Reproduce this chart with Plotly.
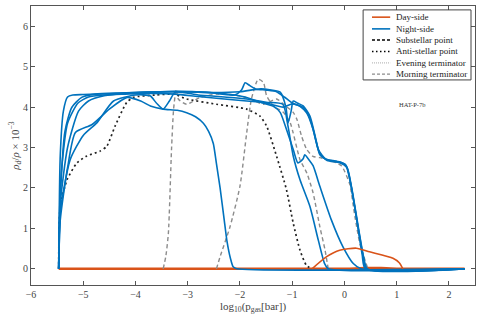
import plotly.graph_objects as go

BLUE = "#0072BD"
ORANGE = "#D95319"

# Night-side profiles (x = log10 p_gas, y = rho_d/rho x 1e-3)
night_a_x = [-5.47, -5.44, -5.38, -5.3, -5.2, -5.0, -4.5, -4.0, -3.5, -3.0, -2.5, -2.0, -1.6, -1.4, -1.23, -1.12, -1.08, -1.02, -0.98, -0.9, -0.79, -0.66, -0.56, -0.47, -0.34, -0.09, 0.04, 0.13, 0.26, 0.36, 0.42, 2.3]
night_a_y = [0, 2.8, 3.9, 4.25, 4.3, 4.31, 4.33, 4.36, 4.38, 4.38, 4.36, 4.38, 4.45, 4.42, 4.37, 4.0, 3.6, 3.9, 4.15, 4.1, 4.03, 3.78, 3.28, 2.82, 2.7, 2.64, 2.54, 2.04, 1.04, 0.3, 0, 0]

night_b_x = [-5.47, -5.43, -5.35, -5.22, -5.03, -4.77, -4.3, -3.8, -3.2, -2.6, -2.1, -1.97, -1.9, -1.81, -1.7, -1.5, -1.3, -1.15, -1.0, -0.85, -0.72, -0.6, -0.5, -0.36, -0.15, 0.02, 0.12, 0.25, 0.34, 0.4, 2.3]
night_b_y = [0, 2.0, 3.4, 3.99, 4.24, 4.32, 4.35, 4.37, 4.39, 4.36, 4.3, 4.42, 4.6, 4.53, 4.45, 4.42, 4.38, 4.25, 4.1, 4.02, 3.85, 3.45, 2.95, 2.72, 2.66, 2.58, 2.1, 1.1, 0.35, 0, 0]

night_c_x = [-5.47, -5.44, -5.3, -5.09, -4.9, -4.6, -4.2, -3.8, -3.3, -2.8, -2.3, -1.9, -1.61, -1.36, -1.23, -1.11, -0.98, -0.89, -0.79, -0.76, -0.68, -0.6, -0.47, -0.25, -0.03, 0.17, 0.32, 2.3]
night_c_y = [0, 1.6, 3.0, 3.9, 4.15, 4.28, 4.34, 4.36, 4.38, 4.37, 4.33, 4.25, 4.12, 4.02, 3.87, 3.45, 2.95, 2.62, 2.72, 2.82, 2.7, 2.55, 2.04, 1.21, 0.55, 0.13, 0, 0]

night_d_x = [-5.47, -5.44, -5.25, -5.0, -4.74, -4.42, -4.0, -3.72, -3.6, -3.47, -3.35, -3.24, -2.8, -2.3, -1.87, -1.5, -1.18, -1.08, -0.98, -0.85, -0.66, -0.5, -0.38, -0.31, 2.3]
night_d_y = [0, 1.4, 2.7, 3.3, 3.61, 4.15, 4.3, 4.28, 4.1, 3.95, 4.15, 4.37, 4.3, 4.25, 4.2, 4.12, 4.07, 3.53, 2.79, 2.2, 1.54, 0.71, 0.13, 0, 0]

night_e_x = [-5.47, -5.44, -5.3, -5.15, -4.83, -4.5, -4.16, -3.9, -3.7, -3.47, -3.2, -3.02, -2.85, -2.7, -2.6, -2.51, -2.45, -2.38, -2.3, -2.25, -2.18, -2.13, -2.06, 2.3]
night_e_y = [0, 1.2, 2.5, 3.37, 3.57, 3.95, 4.24, 4.15, 4.02, 3.95, 3.92, 3.86, 3.76, 3.6, 3.4, 3.1, 2.6, 2.0, 1.2, 0.7, 0.25, 0.05, 0, 0]

night_f_x = [-5.47, -5.43, -5.3, -5.1, -4.9, -4.6, -4.2, -3.7, -3.24, -2.8, -2.3, -1.87, -1.5, -1.17, -1.0, -0.9, -0.78, -0.66, -0.56, -0.47, -0.33, -0.1, 0.05, 0.14, 0.27, 0.37, 0.44, 2.3]
night_f_y = [0, 2.2, 3.6, 4.1, 4.25, 4.3, 4.32, 4.34, 4.32, 4.26, 4.2, 4.15, 4.1, 4.0, 4.08, 4.05, 3.98, 3.72, 3.25, 2.85, 2.68, 2.63, 2.5, 2.0, 1.0, 0.28, 0, 0]

# Anti-stellar point
anti_x = [-5.47, -5.44, -5.31, -5.12, -4.93, -4.68, -4.55, -4.39, -4.17, -4.04, -3.6, -3.27, -3.02, -2.45, -1.87, -1.62, -1.49, -1.3, -1.11, -0.98, -0.85, -0.73, -0.63]
anti_y = [0, 1.54, 2.2, 2.62, 2.79, 2.91, 3.03, 3.53, 4.11, 4.24, 4.3, 4.32, 4.2, 4.07, 3.95, 3.78, 3.53, 2.79, 1.96, 1.13, 0.46, 0.09, 0]

# Morning terminator
morn1_x = [-3.47, -3.42, -3.37, -3.31, -3.27, -3.22, -3.18, -3.02, -2.76, -2.44, -2.1, -1.8, -1.55, -1.3, -1.1, -0.98, -0.91, -0.82, -0.72, -0.6, -0.47, -0.15, -0.05, 0.1, 0.2, 0.3, 0.45]
morn1_y = [0, 0.3, 0.88, 2.95, 3.95, 4.44, 4.2, 4.07, 4.24, 4.32, 4.3, 4.2, 4.07, 4.2, 4.0, 3.87, 3.7, 3.28, 2.95, 2.78, 2.75, 2.62, 2.54, 2.1, 1.3, 0.6, 0]

morn2_x = [-2.45, -2.38, -2.19, -2.0, -1.87, -1.78, -1.65, -1.55, -1.49, -1.36, -1.17, -1.04, -0.85, -0.72, -0.6, -0.47, -0.37, -0.31]
morn2_y = [0, 0.3, 1.04, 2.04, 3.37, 4.2, 4.69, 4.61, 4.28, 4.03, 3.87, 3.62, 2.7, 2.37, 1.88, 1.04, 0.46, 0]

# Day-side
day_flat_x = [-5.47, 2.3]
day_flat_y = [0, 0]
day_hump_x = [-0.62, -0.34, -0.09, 0.23, 0.48, 0.93, 1.05, 1.12]
day_hump_y = [0, 0.3, 0.46, 0.51, 0.42, 0.26, 0.15, 0]
day_small_x = [0.1, 0.4, 0.7, 1.0]
day_small_y = [0, 0.03, 0.03, 0]

legend_names = ["Day-side", "Night-side", "Substellar point", "Anti-stellar point",
                "Evening terminator", "Morning terminator"]

fig = go.Figure()

def add(x, y, color, dash="solid", width=1.6):
    fig.add_trace(go.Scatter(x=x, y=y, mode="lines", showlegend=False, hoverinfo="skip",
                             line=dict(color=color, dash=dash, width=width,
                                       shape="spline", smoothing=0.6)))

add(day_flat_x, day_flat_y, ORANGE, width=2.5)
add(day_small_x, day_small_y, ORANGE)
add(morn1_x, morn1_y, "#8c8c8c", dash="4px,3px", width=1.4)
add(morn2_x, morn2_y, "#8c8c8c", dash="4px,3px", width=1.4)
add(anti_x, anti_y, "#222222", dash="2px,3px", width=1.7)
for xs, ys in [(night_a_x, night_a_y), (night_b_x, night_b_y), (night_c_x, night_c_y),
               (night_d_x, night_d_y), (night_e_x, night_e_y), (night_f_x, night_f_y)]:
    add(xs, ys, BLUE)
add(day_hump_x, day_hump_y, ORANGE)

# hand-drawn legend box (paper coords) so the rows can sit close together
fig.add_shape(type="rect", xref="paper", yref="paper", x0=0.748, x1=0.991, y0=0.735, y1=0.986,
              line=dict(color="#444444", width=1), fillcolor="white", layer="above")
styles = [(ORANGE, "solid", 1.6), (BLUE, "solid", 1.6), ("black", "3px,2px", 1.6),
          ("black", "1.5px,2.5px", 1.6), ("#aaaaaa", "1px,1px", 1), ("#8c8c8c", "3px,2px", 1.4)]
row_y = [0.960, 0.918, 0.878, 0.837, 0.796, 0.756]
for name, (c, d, w), ry in zip(legend_names, styles, row_y):
    fig.add_shape(type="line", xref="paper", yref="paper", x0=0.768, x1=0.809, y0=ry, y1=ry,
                  line=dict(color=c, dash=d, width=w), layer="above")
    fig.add_annotation(xref="paper", yref="paper", x=0.818, y=ry, text=name, showarrow=False,
                       xanchor="left", yanchor="middle", font=dict(size=9, color="#222222"))

fig.add_annotation(x=1.0, y=4.07, text="HAT-P-7b", showarrow=False, xanchor="left",
                   font=dict(size=6.5, color="#333333"))

axis = dict(showgrid=False, zeroline=False, ticks="inside", ticklen=4, mirror="ticks",
            showline=True, linecolor="#555555", linewidth=1, tickcolor="#555555",
            tickfont=dict(size=10, color="#444444"), automargin=False)

fig.update_layout(
    width=483, height=322,
    margin=dict(l=31, r=8, t=6, b=37),
    plot_bgcolor="white", paper_bgcolor="white",
    showlegend=False,
    font=dict(family="Liberation Serif", color="#444444"),
    xaxis=dict(range=[-6, 2.5], dtick=1, title=dict(text="log<sub>10</sub>(p<sub>gas</sub>[bar])",
               font=dict(size=11), standoff=2), **axis),
    yaxis=dict(range=[-0.4, 6.5], dtick=1, title=dict(text="<i>ρ<sub>d</sub></i>/<i>ρ</i> × 10<sup>−3</sup>",
               font=dict(size=11), standoff=1), **axis),
)

# drop the page's default body margin so the figure sits at the window's corner
fig.write_html("out.html", config={"displayModeBar": False},
               post_script="document.body.style.margin='0';")
